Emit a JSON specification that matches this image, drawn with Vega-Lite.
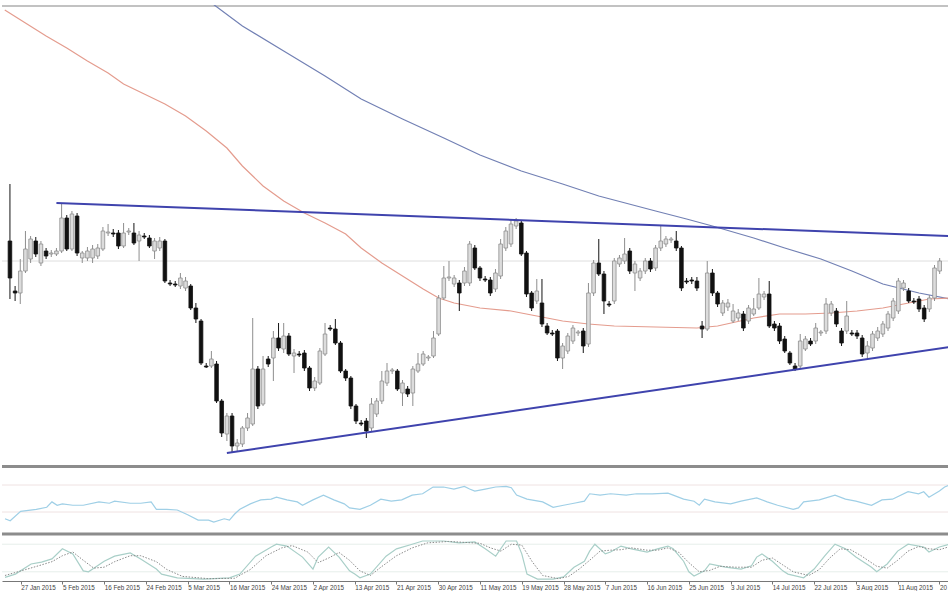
{
"$schema": "https://vega.github.io/schema/vega-lite/v6.json",
"padding": {"top": 4, "left": 0, "right": 0, "bottom": 0},
"spacing": 0,
"background": "white",
"config": {"view": {"stroke": null}},
"datasets": {
"candles": [
{"i":0,"o":260,"h":317,"l":202,"c":223},{"i":1,"o":210,"h":215,"l":200,"c":208},{"i":2,"o":208,"h":242,"l":197,"c":230},{"i":3,"o":230,"h":270,"l":228,"c":252},{"i":4,"o":242,"h":265,"l":238,"c":262},{"i":5,"o":260,"h":264,"l":244,"c":247},{"i":6,"o":238,"h":260,"l":235,"c":257},{"i":7,"o":250,"h":253,"l":242,"c":245},{"i":8,"o":247,"h":251,"l":244,"c":248},{"i":9,"o":247,"h":253,"l":245,"c":250},
{"i":10,"o":250,"h":298,"l":248,"c":283},{"i":11,"o":283,"h":286,"l":250,"c":252},{"i":12,"o":252,"h":290,"l":250,"c":287},{"i":13,"o":285,"h":288,"l":245,"c":248},{"i":14,"o":243,"h":250,"l":238,"c":248},{"i":15,"o":243,"h":254,"l":240,"c":250},{"i":16,"o":243,"h":256,"l":238,"c":252},{"i":17,"o":245,"h":257,"l":242,"c":253},{"i":18,"o":252,"h":274,"l":250,"c":270},{"i":19,"o":268,"h":277,"l":265,"c":269},
{"i":20,"o":268,"h":272,"l":264,"c":267},{"i":21,"o":268,"h":271,"l":252,"c":255},{"i":22,"o":255,"h":278,"l":253,"c":268},{"i":23,"o":269,"h":273,"l":266,"c":270},{"i":24,"o":268,"h":278,"l":256,"c":258},{"i":25,"o":260,"h":270,"l":240,"c":266},{"i":26,"o":265,"h":268,"l":262,"c":264},{"i":27,"o":263,"h":266,"l":253,"c":255},{"i":28,"o":250,"h":263,"l":242,"c":260},{"i":29,"o":253,"h":264,"l":250,"c":260},
{"i":30,"o":260,"h":262,"l":218,"c":220},{"i":31,"o":218,"h":221,"l":215,"c":217},{"i":32,"o":217,"h":220,"l":214,"c":216},{"i":33,"o":215,"h":228,"l":212,"c":223},{"i":34,"o":213,"h":224,"l":210,"c":220},{"i":35,"o":215,"h":217,"l":191,"c":193},{"i":36,"o":193,"h":198,"l":178,"c":182},{"i":37,"o":180,"h":182,"l":136,"c":138},{"i":38,"o":135,"h":138,"l":133,"c":134},{"i":39,"o":135,"h":150,"l":133,"c":142},
{"i":40,"o":137,"h":140,"l":98,"c":100},{"i":41,"o":100,"h":102,"l":64,"c":68},{"i":42,"o":67,"h":88,"l":60,"c":85},{"i":43,"o":85,"h":88,"l":48,"c":55},{"i":44,"o":55,"h":62,"l":50,"c":58},{"i":45,"o":57,"h":75,"l":54,"c":73},{"i":46,"o":73,"h":88,"l":70,"c":83},{"i":47,"o":77,"h":183,"l":75,"c":132},{"i":48,"o":132,"h":135,"l":92,"c":95},{"i":49,"o":97,"h":145,"l":95,"c":132},
{"i":50,"o":142,"h":145,"l":134,"c":137},{"i":51,"o":143,"h":170,"l":120,"c":163},{"i":52,"o":163,"h":178,"l":150,"c":153},{"i":53,"o":152,"h":178,"l":148,"c":165},{"i":54,"o":165,"h":168,"l":145,"c":147},{"i":55,"o":145,"h":152,"l":128,"c":148},{"i":56,"o":147,"h":150,"l":144,"c":146},{"i":57,"o":148,"h":151,"l":130,"c":133},{"i":58,"o":133,"h":135,"l":110,"c":113},{"i":59,"o":113,"h":124,"l":110,"c":120},
{"i":60,"o":118,"h":153,"l":116,"c":150},{"i":61,"o":147,"h":178,"l":145,"c":167},{"i":62,"o":173,"h":176,"l":170,"c":172},{"i":63,"o":172,"h":182,"l":156,"c":158},{"i":64,"o":158,"h":160,"l":128,"c":130},{"i":65,"o":130,"h":132,"l":120,"c":123},{"i":66,"o":123,"h":125,"l":92,"c":95},{"i":67,"o":95,"h":97,"l":77,"c":80},{"i":68,"o":78,"h":81,"l":75,"c":77},{"i":69,"o":80,"h":83,"l":63,"c":70},
{"i":70,"o":73,"h":103,"l":70,"c":97},{"i":71,"o":87,"h":103,"l":84,"c":100},{"i":72,"o":100,"h":130,"l":97,"c":120},{"i":73,"o":118,"h":138,"l":115,"c":130},{"i":74,"o":130,"h":133,"l":127,"c":131},{"i":75,"o":130,"h":132,"l":110,"c":112},{"i":76,"o":108,"h":121,"l":95,"c":118},{"i":77,"o":112,"h":115,"l":104,"c":107},{"i":78,"o":108,"h":135,"l":95,"c":132},{"i":79,"o":130,"h":148,"l":128,"c":137},
{"i":80,"o":137,"h":150,"l":135,"c":147},{"i":81,"o":143,"h":146,"l":140,"c":144},{"i":82,"o":145,"h":170,"l":143,"c":163},{"i":83,"o":167,"h":206,"l":165,"c":203},{"i":84,"o":203,"h":235,"l":201,"c":223},{"i":85,"o":223,"h":240,"l":220,"c":224},{"i":86,"o":217,"h":226,"l":214,"c":223},{"i":87,"o":218,"h":221,"l":190,"c":208},{"i":88,"o":218,"h":234,"l":215,"c":230},{"i":89,"o":218,"h":260,"l":215,"c":257},
{"i":90,"o":253,"h":256,"l":231,"c":233},{"i":91,"o":233,"h":235,"l":220,"c":223},{"i":92,"o":222,"h":225,"l":219,"c":221},{"i":93,"o":221,"h":224,"l":205,"c":208},{"i":94,"o":212,"h":232,"l":209,"c":228},{"i":95,"o":225,"h":262,"l":222,"c":257},{"i":96,"o":253,"h":274,"l":250,"c":270},{"i":97,"o":257,"h":282,"l":254,"c":277},{"i":98,"o":275,"h":283,"l":272,"c":280},{"i":99,"o":278,"h":281,"l":245,"c":247},
{"i":100,"o":248,"h":250,"l":204,"c":207},{"i":101,"o":208,"h":210,"l":190,"c":193},{"i":102,"o":200,"h":222,"l":197,"c":210},{"i":103,"o":198,"h":222,"l":174,"c":177},{"i":104,"o":175,"h":178,"l":166,"c":168},{"i":105,"o":168,"h":171,"l":165,"c":167},{"i":106,"o":170,"h":172,"l":140,"c":143},{"i":107,"o":143,"h":158,"l":132,"c":155},{"i":108,"o":150,"h":168,"l":147,"c":165},{"i":109,"o":160,"h":176,"l":157,"c":173},
{"i":110,"o":168,"h":171,"l":165,"c":169},{"i":111,"o":170,"h":173,"l":148,"c":155},{"i":112,"o":157,"h":218,"l":154,"c":208},{"i":113,"o":208,"h":241,"l":205,"c":238},{"i":114,"o":238,"h":262,"l":225,"c":227},{"i":115,"o":227,"h":230,"l":187,"c":200},{"i":116,"o":197,"h":200,"l":194,"c":196},{"i":117,"o":200,"h":243,"l":197,"c":240},{"i":118,"o":237,"h":246,"l":234,"c":243},{"i":119,"o":240,"h":263,"l":237,"c":247},
{"i":120,"o":250,"h":253,"l":227,"c":230},{"i":121,"o":228,"h":240,"l":210,"c":237},{"i":122,"o":223,"h":233,"l":220,"c":230},{"i":123,"o":230,"h":243,"l":227,"c":240},{"i":124,"o":240,"h":243,"l":229,"c":232},{"i":125,"o":233,"h":256,"l":230,"c":253},{"i":126,"o":253,"h":275,"l":250,"c":260},{"i":127,"o":257,"h":265,"l":254,"c":262},{"i":128,"o":261,"h":264,"l":258,"c":262},{"i":129,"o":260,"h":270,"l":250,"c":253},
{"i":130,"o":253,"h":255,"l":210,"c":213},{"i":131,"o":220,"h":223,"l":217,"c":219},{"i":132,"o":221,"h":224,"l":217,"c":220},{"i":133,"o":220,"h":224,"l":210,"c":213},{"i":134,"o":175,"h":180,"l":163,"c":172},{"i":135,"o":172,"h":240,"l":170,"c":228},{"i":136,"o":228,"h":232,"l":205,"c":208},{"i":137,"o":208,"h":210,"l":194,"c":197},{"i":138,"o":188,"h":201,"l":185,"c":198},{"i":139,"o":194,"h":202,"l":190,"c":198},
{"i":140,"o":180,"h":197,"l":178,"c":190},{"i":141,"o":183,"h":192,"l":180,"c":188},{"i":142,"o":187,"h":190,"l":170,"c":173},{"i":143,"o":180,"h":196,"l":177,"c":193},{"i":144,"o":187,"h":203,"l":185,"c":192},{"i":145,"o":193,"h":223,"l":191,"c":207},{"i":146,"o":204,"h":210,"l":201,"c":207},{"i":147,"o":207,"h":220,"l":173,"c":175},{"i":148,"o":177,"h":180,"l":170,"c":173},{"i":149,"o":175,"h":178,"l":157,"c":160},
{"i":150,"o":162,"h":165,"l":148,"c":150},{"i":151,"o":148,"h":150,"l":136,"c":138},{"i":152,"o":135,"h":138,"l":130,"c":132},{"i":153,"o":135,"h":167,"l":132,"c":160},{"i":154,"o":152,"h":165,"l":150,"c":162},{"i":155,"o":160,"h":163,"l":155,"c":157},{"i":156,"o":160,"h":178,"l":157,"c":173},{"i":157,"o":168,"h":171,"l":165,"c":169},{"i":158,"o":170,"h":203,"l":167,"c":197},{"i":159,"o":188,"h":200,"l":185,"c":197},
{"i":160,"o":190,"h":193,"l":174,"c":177},{"i":161,"o":170,"h":173,"l":155,"c":158},{"i":162,"o":170,"h":200,"l":167,"c":185},{"i":163,"o":168,"h":171,"l":165,"c":167},{"i":164,"o":168,"h":171,"l":162,"c":165},{"i":165,"o":163,"h":166,"l":144,"c":147},{"i":166,"o":148,"h":160,"l":142,"c":155},{"i":167,"o":153,"h":170,"l":150,"c":167},{"i":168,"o":163,"h":174,"l":160,"c":170},{"i":169,"o":167,"h":180,"l":164,"c":177},
{"i":170,"o":173,"h":190,"l":170,"c":187},{"i":171,"o":183,"h":203,"l":180,"c":200},{"i":172,"o":190,"h":223,"l":187,"c":220},{"i":173,"o":213,"h":221,"l":210,"c":218},{"i":174,"o":210,"h":213,"l":198,"c":200},{"i":175,"o":200,"h":203,"l":197,"c":199},{"i":176,"o":202,"h":205,"l":189,"c":192},{"i":177,"o":193,"h":196,"l":179,"c":182},{"i":178,"o":192,"h":206,"l":189,"c":203},{"i":179,"o":203,"h":236,"l":200,"c":233},
{"i":180,"o":230,"h":243,"l":227,"c":240}
],
"maR": [
{"i":-1,"v":491},{"i":3,"v":478},{"i":7,"v":465},{"i":11,"v":453},{"i":15,"v":440},{"i":19,"v":428},{"i":22,"v":417},{"i":26,"v":407},{"i":30,"v":397},{"i":34,"v":385},{"i":38,"v":370},{"i":42,"v":353},{"i":45,"v":335},{"i":49,"v":315},{"i":53,"v":300},{"i":57,"v":288},{"i":61,"v":278},{"i":65,"v":267},{"i":68,"v":253},{"i":72,"v":238},{"i":76,"v":225},{"i":80,"v":212},{"i":83,"v":203},{"i":86,"v":198},{"i":91,"v":193},{"i":97,"v":190},{"i":102,"v":185},{"i":107,"v":180},{"i":112,"v":177},{"i":117,"v":175},{"i":125,"v":174},{"i":133,"v":173},{"i":137,"v":175},{"i":144,"v":183},{"i":149,"v":187},{"i":154,"v":187},{"i":159,"v":188},{"i":164,"v":190},{"i":169,"v":193},{"i":173,"v":197},{"i":178,"v":202},{"i":182,"v":203}
],
"maB": [
{"i":38,"v":502},{"i":45,"v":475},{"i":53,"v":450},{"i":61,"v":425},{"i":68,"v":402},{"i":76,"v":382},{"i":84,"v":363},{"i":91,"v":346},{"i":99,"v":330},{"i":107,"v":317},{"i":114,"v":305},{"i":125,"v":290},{"i":131,"v":282},{"i":136,"v":275},{"i":144,"v":263},{"i":150,"v":253},{"i":157,"v":242},{"i":163,"v":230},{"i":169,"v":217},{"i":176,"v":208},{"i":182,"v":202}
],
"trend": [
{"k":"upper","i":9,"v":298},{"k":"upper","i":182,"v":265},{"k":"lower","i":42,"v":48},{"k":"lower","i":182,"v":154}
],
"rsi": [
{"i":0,"r":20},{"i":1,"r":17},{"i":3,"r":31},{"i":6,"r":34},{"i":8,"r":37},{"i":9,"r":45},{"i":10,"r":40},{"i":11,"r":42},{"i":13,"r":40},{"i":15,"r":40},{"i":18,"r":45},{"i":20,"r":43},{"i":21,"r":46},{"i":24,"r":43},{"i":26,"r":43},{"i":28,"r":45},{"i":29,"r":34},{"i":31,"r":34},{"i":33,"r":33},{"i":35,"r":26},{"i":37,"r":18},{"i":39,"r":18},{"i":40,"r":15},{"i":42,"r":20},{"i":43,"r":18},{"i":44,"r":27},{"i":45,"r":34},{"i":47,"r":42},{"i":49,"r":48},{"i":51,"r":49},{"i":52,"r":52},{"i":54,"r":48},{"i":56,"r":45},{"i":57,"r":40},{"i":59,"r":48},{"i":61,"r":55},{"i":63,"r":48},{"i":65,"r":42},{"i":66,"r":36},{"i":68,"r":34},{"i":70,"r":40},{"i":72,"r":49},{"i":74,"r":46},{"i":76,"r":48},{"i":78,"r":55},{"i":80,"r":57},{"i":82,"r":67},{"i":84,"r":67},{"i":86,"r":64},{"i":88,"r":68},{"i":89,"r":64},{"i":90,"r":61},{"i":92,"r":64},{"i":94,"r":67},{"i":96,"r":68},{"i":97,"r":66},{"i":98,"r":55},{"i":100,"r":49},{"i":103,"r":45},{"i":105,"r":37},{"i":107,"r":40},{"i":109,"r":43},{"i":111,"r":46},{"i":112,"r":57},{"i":114,"r":55},{"i":116,"r":57},{"i":119,"r":55},{"i":121,"r":57},{"i":124,"r":57},{"i":127,"r":58},{"i":128,"r":55},{"i":130,"r":49},{"i":132,"r":46},{"i":133,"r":40},{"i":134,"r":49},{"i":136,"r":45},{"i":139,"r":42},{"i":141,"r":46},{"i":144,"r":51},{"i":146,"r":45},{"i":148,"r":40},{"i":151,"r":34},{"i":152,"r":36},{"i":153,"r":45},{"i":156,"r":48},{"i":159,"r":55},{"i":161,"r":49},{"i":163,"r":46},{"i":166,"r":40},{"i":168,"r":48},{"i":170,"r":49},{"i":173,"r":60},{"i":175,"r":57},{"i":176,"r":60},{"i":177,"r":52},{"i":179,"r":61},{"i":180,"r":67},{"i":181,"r":70}
],
"stoch": [
{"i":0,"s":8},{"i":2,"s":15},{"i":5,"s":37},{"i":7,"s":41},{"i":9,"s":48},{"i":11,"s":70},{"i":13,"s":59},{"i":15,"s":22},{"i":16,"s":20},{"i":19,"s":43},{"i":21,"s":54},{"i":24,"s":61},{"i":26,"s":48},{"i":29,"s":26},{"i":30,"s":15},{"i":33,"s":7},{"i":38,"s":4},{"i":43,"s":7},{"i":45,"s":15},{"i":48,"s":54},{"i":51,"s":74},{"i":52,"s":80},{"i":54,"s":76},{"i":57,"s":52},{"i":59,"s":26},{"i":60,"s":52},{"i":62,"s":74},{"i":64,"s":52},{"i":66,"s":22},{"i":67,"s":15},{"i":68,"s":7},{"i":70,"s":15},{"i":73,"s":54},{"i":75,"s":70},{"i":78,"s":80},{"i":80,"s":87},{"i":84,"s":87},{"i":87,"s":83},{"i":90,"s":85},{"i":92,"s":70},{"i":94,"s":54},{"i":96,"s":87},{"i":98,"s":87},{"i":99,"s":59},{"i":100,"s":15},{"i":102,"s":4},{"i":105,"s":4},{"i":107,"s":9},{"i":109,"s":30},{"i":111,"s":43},{"i":112,"s":65},{"i":113,"s":80},{"i":115,"s":59},{"i":116,"s":63},{"i":118,"s":76},{"i":120,"s":70},{"i":123,"s":63},{"i":125,"s":70},{"i":127,"s":76},{"i":128,"s":70},{"i":130,"s":43},{"i":131,"s":20},{"i":132,"s":11},{"i":134,"s":22},{"i":135,"s":37},{"i":138,"s":30},{"i":141,"s":26},{"i":143,"s":33},{"i":144,"s":52},{"i":145,"s":59},{"i":147,"s":43},{"i":149,"s":22},{"i":150,"s":15},{"i":153,"s":7},{"i":155,"s":26},{"i":157,"s":54},{"i":159,"s":80},{"i":161,"s":70},{"i":163,"s":52},{"i":166,"s":30},{"i":167,"s":20},{"i":169,"s":37},{"i":171,"s":65},{"i":173,"s":80},{"i":176,"s":74},{"i":177,"s":63},{"i":179,"s":74},{"i":181,"s":80}
],
"signal": [
{"i":0,"s":12},{"i":4,"s":25},{"i":7,"s":35},{"i":9,"s":42},{"i":11,"s":55},{"i":13,"s":63},{"i":15,"s":45},{"i":17,"s":28},{"i":19,"s":30},{"i":21,"s":42},{"i":24,"s":55},{"i":26,"s":55},{"i":29,"s":42},{"i":31,"s":25},{"i":34,"s":10},{"i":39,"s":5},{"i":44,"s":6},{"i":47,"s":25},{"i":50,"s":55},{"i":53,"s":72},{"i":55,"s":77},{"i":58,"s":63},{"i":60,"s":40},{"i":62,"s":50},{"i":64,"s":62},{"i":66,"s":45},{"i":68,"s":22},{"i":70,"s":12},{"i":72,"s":30},{"i":75,"s":55},{"i":78,"s":72},{"i":81,"s":83},{"i":85,"s":86},{"i":88,"s":84},{"i":91,"s":82},{"i":93,"s":72},{"i":95,"s":65},{"i":97,"s":80},{"i":99,"s":78},{"i":101,"s":42},{"i":103,"s":12},{"i":106,"s":5},{"i":108,"s":10},{"i":110,"s":26},{"i":112,"s":45},{"i":114,"s":65},{"i":116,"s":67},{"i":118,"s":68},{"i":120,"s":72},{"i":123,"s":67},{"i":125,"s":67},{"i":127,"s":72},{"i":129,"s":63},{"i":131,"s":40},{"i":133,"s":20},{"i":135,"s":23},{"i":137,"s":32},{"i":140,"s":30},{"i":143,"s":30},{"i":145,"s":45},{"i":147,"s":50},{"i":149,"s":35},{"i":151,"s":20},{"i":154,"s":12},{"i":156,"s":25},{"i":158,"s":50},{"i":160,"s":70},{"i":162,"s":68},{"i":164,"s":55},{"i":167,"s":32},{"i":169,"s":28},{"i":171,"s":45},{"i":173,"s":65},{"i":175,"s":75},{"i":177,"s":70},{"i":179,"s":68},{"i":181,"s":75}
]
},
"vconcat": [
{
"width": 948, "height": 460,
"layer": [
{"data": {"values": [{}]}, "mark": {"type": "rule", "color": "#dedede", "strokeWidth": 1}, "encoding": {"y": {"datum": 240, "type": "quantitative", "scale": {"domain": [36, 496], "nice": false, "zero": false}, "axis": null}}},
{"data": {"values": [{}]}, "mark": {"type": "rule", "color": "#c2c2c2", "strokeWidth": 2}, "encoding": {"y": {"datum": 495, "type": "quantitative"}}},
{"data": {"name": "maB"}, "mark": {"type": "line", "color": "#7280b4", "strokeWidth": 1.2, "clip": true}, "encoding": {"x": {"field": "i", "type": "quantitative", "scale": {"domain": [-0.57, 181.03], "nice": false, "zero": false}, "axis": null}, "y": {"field": "v", "type": "quantitative"}}},
{"data": {"name": "maR"}, "mark": {"type": "line", "color": "#e49c8e", "strokeWidth": 1.2, "clip": true}, "encoding": {"x": {"field": "i", "type": "quantitative"}, "y": {"field": "v", "type": "quantitative"}}},
{"data": {"name": "candles"}, "mark": {"type": "rule", "strokeWidth": 1}, "encoding": {"x": {"field": "i", "type": "quantitative"}, "y": {"field": "l", "type": "quantitative"}, "y2": {"field": "h"}, "color": {"condition": {"test": "datum.c < datum.o", "value": "#151515"}, "value": "#8e8e8e"}}},
{"data": {"name": "candles"}, "mark": {"type": "bar", "orient": "vertical", "size": 3.6, "strokeWidth": 0.8}, "encoding": {"x": {"field": "i", "type": "quantitative"}, "y": {"field": "o", "type": "quantitative"}, "y2": {"field": "c"}, "fill": {"condition": {"test": "datum.c < datum.o", "value": "#111111"}, "value": "#dcdcdc"}, "stroke": {"condition": {"test": "datum.c < datum.o", "value": "#111111"}, "value": "#8e8e8e"}}},
{"data": {"name": "trend"}, "mark": {"type": "line", "color": "#3f43ad", "strokeWidth": 2, "clip": true}, "encoding": {"x": {"field": "i", "type": "quantitative"}, "y": {"field": "v", "type": "quantitative"}, "detail": {"field": "k"}}}
]
},
{
"width": 948, "height": 66,
"layer": [
{"data": {"values": [{}]}, "mark": {"type": "rule", "color": "#efe2e2", "strokeWidth": 1}, "encoding": {"y": {"datum": 70, "type": "quantitative", "scale": {"domain": [0.37, 98.15], "nice": false, "zero": false}, "axis": null}}},
{"data": {"values": [{}]}, "mark": {"type": "rule", "color": "#efe2e2", "strokeWidth": 1}, "encoding": {"y": {"datum": 30, "type": "quantitative"}}},
{"data": {"values": [{}]}, "mark": {"type": "rule", "color": "#8c8c8c", "strokeWidth": 3}, "encoding": {"y": {"datum": 97.3, "type": "quantitative"}}},
{"data": {"name": "rsi"}, "mark": {"type": "line", "color": "#9fcfe6", "strokeWidth": 1.2, "clip": true}, "encoding": {"x": {"field": "i", "type": "quantitative", "scale": {"domain": [-0.57, 181.03], "nice": false, "zero": false}, "axis": null}, "y": {"field": "r", "type": "quantitative"}}}
]
},
{
"width": 948, "height": 47,
"layer": [
{"data": {"values": [{}]}, "mark": {"type": "rule", "color": "#e6eeea", "strokeWidth": 1}, "encoding": {"y": {"datum": 80, "type": "quantitative", "scale": {"domain": [0, 102.2], "nice": false, "zero": false}, "axis": null}}},
{"data": {"values": [{}]}, "mark": {"type": "rule", "color": "#e6eeea", "strokeWidth": 1}, "encoding": {"y": {"datum": 20, "type": "quantitative"}}},
{"data": {"values": [{}]}, "mark": {"type": "rule", "color": "#8c8c8c", "strokeWidth": 3}, "encoding": {"y": {"datum": 102, "type": "quantitative"}}},
{"data": {"name": "stoch"}, "mark": {"type": "line", "color": "#a9cfc8", "strokeWidth": 1.2, "clip": true}, "encoding": {"x": {"field": "i", "type": "quantitative", "scale": {"domain": [-0.57, 181.03], "nice": false, "zero": false}, "axis": {"values": [3, 11, 19, 27, 35, 43, 51, 59, 67, 75, 83, 91, 99, 107, 115, 123, 131, 139, 147, 155, 163, 171, 179], "labelExpr": "['27 Jan 2015','5 Feb 2015','16 Feb 2015','24 Feb 2015','5 Mar 2015','16 Mar 2015','24 Mar 2015','2 Apr 2015','13 Apr 2015','21 Apr 2015','30 Apr 2015','11 May 2015','19 May 2015','28 May 2015','7 Jun 2015','16 Jun 2015','25 Jun 2015','3 Jul 2015','14 Jul 2015','22 Jul 2015','3 Aug 2015','11 Aug 2015','20 Aug 2015'][round((datum.value - 3) / 8)]", "title": null, "grid": false, "domainColor": "#777777", "domainWidth": 1, "tickColor": "#777777", "tickSize": 3, "labelAlign": "left", "labelBaseline": "top", "labelDx": 1, "labelPadding": 0, "labelFont": "Liberation Sans", "labelFontSize": 6.3, "labelColor": "#444444", "labelOverlap": false, "labelFlush": false}}, "y": {"field": "s", "type": "quantitative"}}},
{"data": {"name": "signal"}, "mark": {"type": "line", "color": "#8a8a8a", "strokeWidth": 1, "strokeDash": [1.5, 1.5], "clip": true}, "encoding": {"x": {"field": "i", "type": "quantitative"}, "y": {"field": "s", "type": "quantitative"}}}
]
}
]
}
